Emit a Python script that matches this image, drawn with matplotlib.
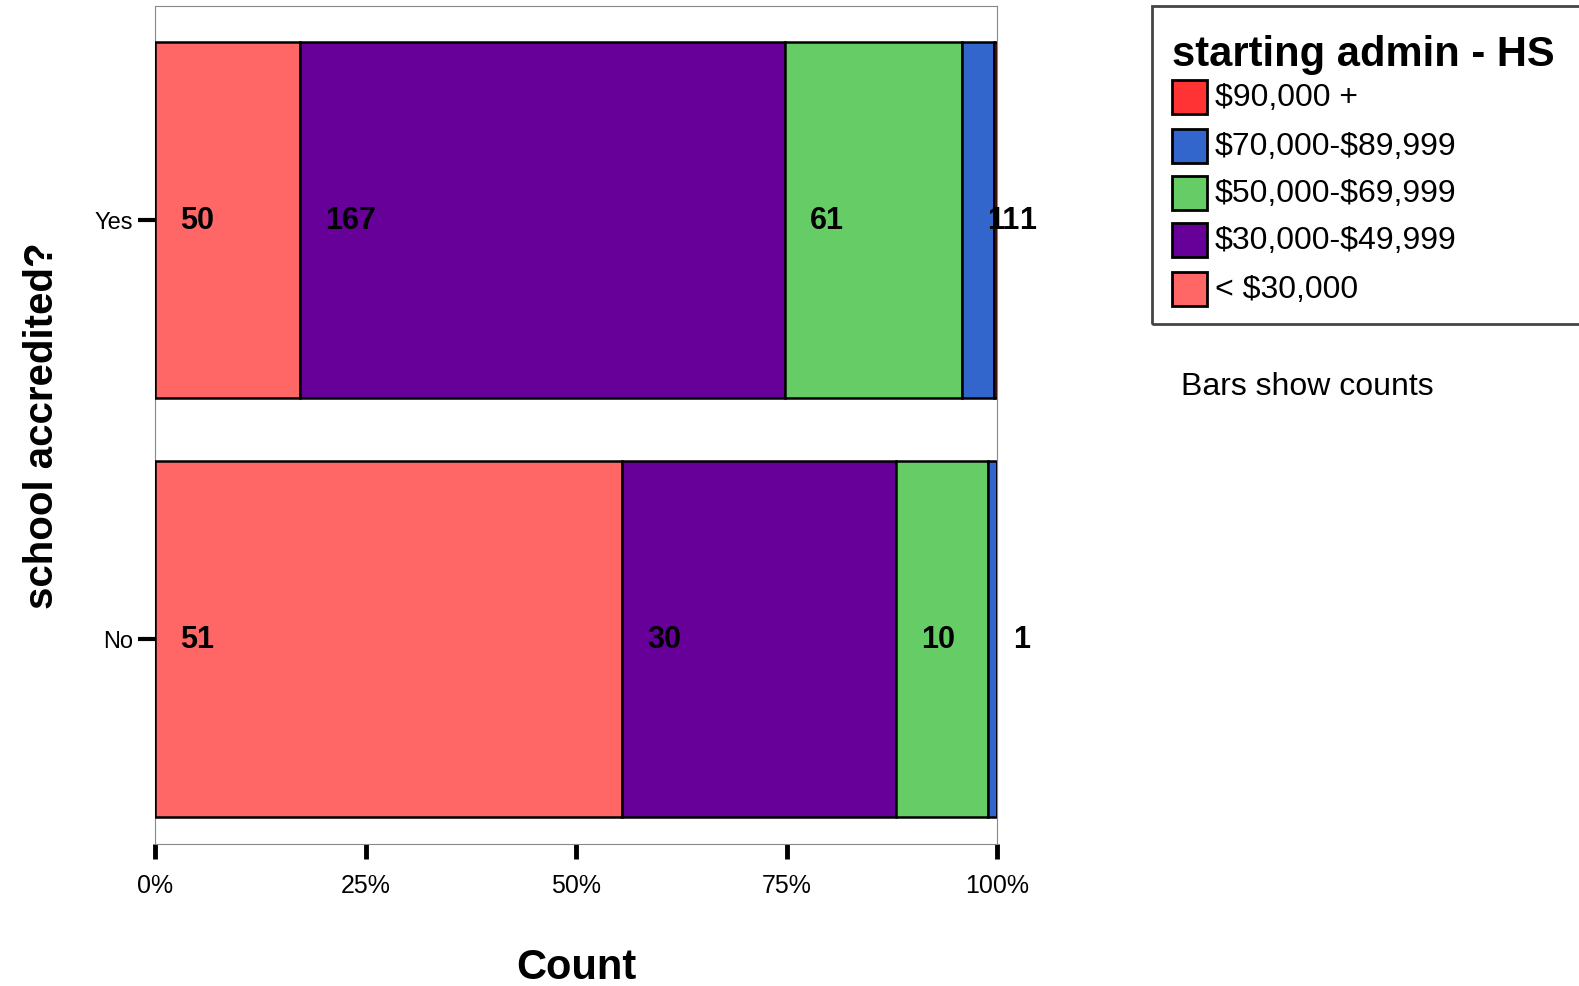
import matplotlib.pyplot as plt
from matplotlib.patches import Rectangle
import numpy as np

plt.rcParams['font.family'] = ['Liberation Sans', 'DejaVu Sans']

groups = ['No', 'Yes']
salary = [r'< \$30,000', r'\$30,000-\$49,999', r'\$50,000-\$69,999',
          r'\$70,000-\$89,999', r'\$90,000 +']
colors = ['#FF6666', '#660099', '#66CC66', '#3366CC', '#FF3333']
counts_no = [51, 30, 10, 1, 0]
counts_yes = [50, 167, 61, 11, 1]
ticks = [0, 25, 50, 75, 100]

counts = np.array([counts_no, counts_yes], dtype=float)
pct = counts / counts.sum(axis=1, keepdims=True) * 100

fig = plt.figure(figsize=(15.79, 9.87), dpi=100)
ax = fig.add_axes([155/1579, 1 - 845/987, 842/1579, 838/987])

ypos = np.arange(len(groups))
left = np.zeros(len(groups))
for j in range(len(salary)):
    ax.barh(ypos, pct[:, j], left=left, height=0.85, color=colors[j],
            edgecolor='black', linewidth=1.8, zorder=3)
    for i in range(len(groups)):
        if counts[i, j] > 0:
            ax.text(left[i] + 3.0, ypos[i], '%d' % counts[i, j],
                    ha='left', va='center', fontsize=22, fontweight='bold',
                    zorder=4, clip_on=False)
    left += pct[:, j]

ax.set_xlim(0, 100)
ax.set_ylim(-0.49, 1.51)
ax.set_yticks(ypos)
ax.set_yticklabels(groups, fontsize=17)
ax.set_xticks(ticks)
ax.set_xticklabels(['%d%%' % t for t in ticks], fontsize=18)
ax.tick_params(axis='x', length=11, width=3.5, pad=10, color='black')
ax.tick_params(axis='y', length=12, width=3, pad=4, color='black')
for s in ax.spines.values():
    s.set_color('#888888')
    s.set_linewidth(0.8)

ax.set_xlabel('Count', fontsize=30, fontweight='bold', labelpad=36)
ax.set_ylabel('school accredited?', fontsize=29, fontweight='bold', labelpad=24)

# legend drawn by hand so it can run off the right edge
fig.patches.append(Rectangle((1152/1579, 1 - 325/987), 0.4, 318/987,
                             transform=fig.transFigure, fill=False,
                             edgecolor='#444444', linewidth=2))
fig.text(1172/1579, 1 - 55/987, 'starting admin - HS', fontsize=30,
         fontweight='bold', va='center', ha='left')
ys = [98, 147, 194, 241, 290]
for k, idx in enumerate([4, 3, 2, 1, 0]):
    y = ys[k]
    fig.patches.append(Rectangle((1172/1579, 1 - (y + 17)/987), 35/1579, 34/987,
                                 transform=fig.transFigure, facecolor=colors[idx],
                                 edgecolor='black', linewidth=2))
    fig.text(1215/1579, 1 - y/987, salary[idx], fontsize=23,
             va='center', ha='left')

fig.text(1181/1579, 1 - 387/987, 'Bars show counts', fontsize=23,
         va='center', ha='left')

plt.savefig('out.png', dpi=100)
